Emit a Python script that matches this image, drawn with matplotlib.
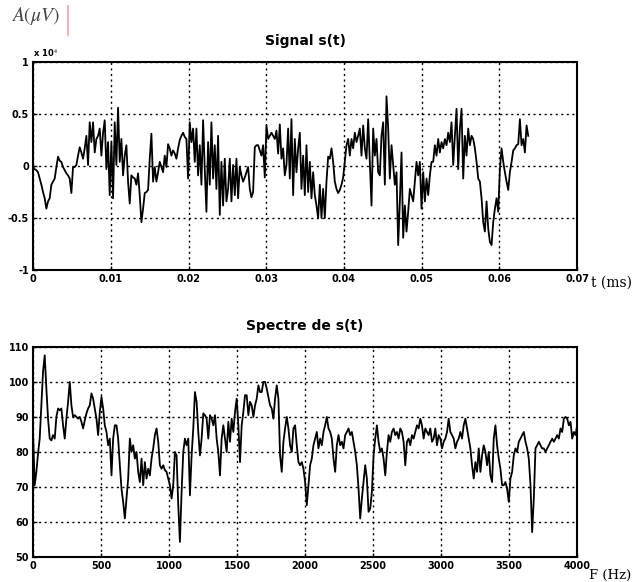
import numpy as np
import matplotlib
matplotlib.use("Agg")
import matplotlib.pyplot as plt
from matplotlib.lines import Line2D

# signal s(t), in units of 1e4 uV, uniformly sampled up to t_fin
signal = [
    -0.01, -0.03, -0.04, -0.06, -0.12, -0.18, -0.25, -0.31, -0.41, -0.34,
    -0.31, -0.18, -0.15, -0.12, -0.01, 0.09, 0.05, 0.04, -0.01, -0.04,
    -0.07, -0.09, -0.12, -0.26, -0.01, -0.01, 0.01, 0.10, 0.18, 0.13,
    0.07, 0.17, 0.29, 0.01, 0.42, 0.23, 0.42, 0.13, 0.26, 0.29,
    0.36, 0.10, 0.32, 0.44, -0.03, 0.23, -0.28, 0.23, -0.31, 0.42,
    0.01, 0.56, 0.04, 0.26, -0.09, 0.10, 0.20, -0.15, -0.36, -0.09,
    -0.11, -0.12, -0.18, -0.07, -0.28, -0.54, -0.41, -0.26, -0.25, -0.23,
    0.07, 0.31, -0.15, -0.01, -0.15, -0.06, 0.04, -0.01, -0.06, 0.10,
    -0.01, 0.21, 0.17, 0.10, 0.15, 0.12, 0.07, 0.17, 0.25, 0.29,
    0.32, 0.28, 0.26, -0.12, 0.42, 0.23, 0.36, 0.04, 0.36, -0.09,
    0.20, -0.18, 0.44, -0.03, -0.44, 0.23, -0.18, 0.42, -0.12, 0.20,
    -0.22, 0.29, -0.47, 0.04, -0.38, 0.07, -0.34, -0.22, 0.07, -0.34,
    0.01, -0.28, 0.07, -0.31, -0.01, -0.09, -0.15, -0.11, -0.06, -0.01,
    -0.22, -0.30, -0.25, 0.18, 0.20, 0.20, 0.15, 0.10, 0.20, -0.11,
    0.39, 0.26, 0.29, 0.32, 0.29, 0.26, 0.34, 0.12, 0.40, 0.07,
    0.17, -0.09,
    0.01, 0.36, -0.12, 0.45, -0.28, 0.26, -0.06, 0.17, 0.32, -0.22,
    0.10, -0.28, 0.20, -0.25, 0.04, -0.31, -0.06, -0.28, -0.38, -0.50,
    -0.18, -0.50, -0.22, -0.50, -0.15, 0.09, 0.07, 0.17, 0.04, -0.15,
    -0.22, -0.26, -0.23, -0.18, -0.11, 0.04, 0.20, 0.26, 0.10, 0.26,
    0.17, 0.32, 0.23, 0.29, 0.36, 0.10, 0.39, 0.17, 0.07, 0.45,
    0.04, -0.38, 0.36, 0.10, 0.26, -0.06, -0.09, 0.29, 0.42, -0.18,
    0.67, 0.36, -0.12, 0.20, 0.01, -0.18, -0.06, -0.76, -0.34, 0.13,
    -0.69, -0.38, -0.63, -0.44, -0.22, -0.28, -0.34, -0.15, 0.04, -0.09,
    0.04, -0.41, -0.06, -0.34, -0.12, -0.28, -0.09, 0.04, 0.04, 0.20,
    0.10, 0.26, 0.13, 0.23, 0.17, 0.26, 0.20, 0.32, 0.23, 0.42,
    0.01, 0.29, 0.55, -0.03, 0.36, 0.55, -0.12, 0.29, 0.10, 0.36,
    0.20, 0.29, 0.26, 0.17, 0.04, -0.12, -0.15, -0.31, -0.54, -0.63,
    -0.34, -0.60, -0.73, -0.76, -0.54, -0.41, -0.31, -0.44, -0.03, 0.17,
    0.04, -0.06, -0.15, -0.23, -0.06, 0.04, 0.15, 0.17, 0.20, 0.21,
    0.45, 0.20, 0.26, 0.13, 0.39, 0.29,
]
t_fin = 0.0637

# spectre de s(t) in dB, bins from 0 to 4000 Hz
spectre = [
    85.7, 70.5, 74.3, 79.5, 83.8, 93.3, 102.9, 107.6, 98.1, 89.5,
    83.8, 83.3, 84.8, 83.8, 90.0, 92.4, 91.9, 92.4, 87.6, 83.8,
    89.5, 94.3, 100.0, 93.3, 90.0, 90.5, 90.0, 89.5, 90.0, 88.6,
    86.7, 89.0, 91.0, 92.4, 93.3, 96.7, 95.2, 92.4, 89.5, 84.8,
    91.4, 95.7, 92.4, 87.6, 85.7, 81.9, 83.8, 73.3, 83.8, 87.6,
    87.6, 83.8, 76.2, 69.5, 65.7, 61.0, 66.7, 72.4, 83.8, 80.0,
    81.9, 78.1, 80.0, 74.3, 71.4, 78.1, 70.5, 77.1, 72.4, 75.2,
    73.3, 78.1, 81.0, 84.8, 86.7, 82.9, 76.2, 75.2, 76.2, 74.8,
    74.3, 72.4, 70.5, 66.7, 70.5, 80.0, 79.0, 64.8, 54.3, 68.6,
    80.0, 83.8, 81.9, 83.8, 67.6, 79.0, 86.7, 97.1, 94.3, 85.7,
    79.0, 83.8, 91.0, 90.5, 89.5, 83.8, 90.5, 89.5, 87.6, 90.5,
    83.8, 80.0, 73.3, 83.8, 87.6, 83.8, 80.0, 88.6, 82.9, 89.5,
    85.7, 91.4, 95.2, 87.6, 77.1, 87.6, 91.4, 96.2, 96.2, 90.5,
    94.3, 93.3, 90.0, 93.3, 95.2, 99.0, 97.1, 97.1, 100.0, 100.0,
    98.1, 95.7, 93.3, 92.4, 89.5, 95.2, 99.0, 95.2, 79.0, 74.3,
    82.9, 86.7, 90.0, 86.7, 81.9, 80.0, 86.7, 87.6, 81.9, 77.1,
    76.2, 77.1, 75.2, 71.4,
    64.8, 70.5, 76.2, 78.1, 81.9, 83.8, 85.7, 81.0, 83.8, 81.9,
    85.7, 87.6, 90.0, 86.7, 85.7, 83.8, 78.1, 74.3, 81.9, 84.8,
    81.9, 82.9, 81.0, 84.8, 85.7, 86.7, 84.8, 85.7, 82.9, 80.0,
    76.2, 69.5, 61.0, 66.7, 71.4, 76.2, 72.4, 62.9, 63.8, 68.6,
    79.0, 83.8, 87.6, 82.9, 80.0, 81.0, 78.1, 73.3, 80.0, 84.8,
    82.9, 85.7, 86.7, 84.8, 85.7, 83.8, 86.7, 85.7, 82.9, 76.2,
    82.9, 83.8, 81.9, 84.8, 83.8, 85.7, 87.6, 86.7, 89.5, 87.6,
    83.8, 86.7, 85.7, 84.8, 86.7, 82.9, 83.8, 86.7, 81.9, 84.8,
    83.8, 81.0, 82.9, 83.8, 85.7, 89.5, 85.7, 84.8, 83.8, 81.0,
    82.9, 83.8, 85.7, 83.8, 87.6, 89.5, 86.7, 83.8, 81.0, 76.2,
    72.4, 77.1, 74.3, 81.0, 74.3, 79.0, 81.9, 80.0, 76.2, 80.0,
    73.3, 71.4, 83.8, 87.6, 81.9, 78.1, 75.2, 70.5, 70.5, 71.4,
    69.5, 65.7, 72.4, 74.3, 79.0, 81.0, 80.0, 82.9, 83.8, 84.8,
    85.7, 82.9, 81.0, 78.1, 70.5, 57.1, 66.7, 81.0, 81.9, 82.9,
    81.9, 81.0, 81.0, 80.0, 81.0, 81.9, 82.9, 83.8, 82.9, 83.8,
    84.8, 83.8, 86.7, 85.7, 89.5, 90.0, 89.5, 87.6, 88.6, 83.8,
    85.7, 84.8, 87.6,
]
f_max = 4000

t_ticks = [0, 0.01, 0.02, 0.03, 0.04, 0.05, 0.06, 0.07]
t_labels = ["0", "0.01", "0.02", "0.03", "0.04", "0.05", "0.06", "0.07"]
a_ticks = [-1, -0.5, 0, 0.5, 1]
a_labels = ["-1", "-0.5", "0", "0.5", "1"]
f_ticks = [0, 500, 1000, 1500, 2000, 2500, 3000, 3500, 4000]
db_ticks = [50, 60, 70, 80, 90, 100, 110]

t = np.linspace(0, t_fin, len(signal))
f = np.linspace(0, f_max, len(spectre))

plt.rcParams["mathtext.fontset"] = "stix"

fig = plt.figure(figsize=(6.35, 5.82), dpi=100)
ax1 = fig.add_axes([0.052, 0.536, 0.857, 0.3575])
ax2 = fig.add_axes([0.052, 0.043, 0.857, 0.361])

def style(ax):
    ax.grid(True, color="black", linestyle=(0, (1.5, 2.5)), linewidth=1.0)
    for s in ax.spines.values():
        s.set_linewidth(1.5)
    ax.tick_params(direction="in", length=3, width=1, labelsize=7, pad=3)
    for lab in ax.get_xticklabels() + ax.get_yticklabels():
        lab.set_fontweight("bold")

ax1.plot(t, signal, color="black", linewidth=1.3)
ax1.set_xlim(0, 0.07)
ax1.set_ylim(-1, 1)
ax1.set_xticks(t_ticks)
ax1.set_xticklabels(t_labels)
ax1.set_yticks(a_ticks)
ax1.set_yticklabels(a_labels)
ax1.set_title("Signal s(t)", fontsize=10, fontweight="bold", pad=12)
style(ax1)
ax1.text(0.0, 1.015, r"x 10$^4$", transform=ax1.transAxes, fontsize=6,
         fontweight="bold", ha="left", va="bottom")
ax1.text(1.026, -0.062, "t (ms)", transform=ax1.transAxes, fontsize=10,
         family="serif", ha="left", va="center")

ax2.plot(f, spectre, color="black", linewidth=1.3)
ax2.set_xlim(0, 4000)
ax2.set_ylim(50, 110)
ax2.set_xticks(f_ticks)
ax2.set_yticks(db_ticks)
ax2.set_title("Spectre de s(t)", fontsize=10, fontweight="bold", pad=12)
style(ax2)
ax2.text(1.022, -0.086, "F (Hz)", transform=ax2.transAxes, fontsize=9.5,
         family="serif", ha="left", va="center")

fig.text(0.018, 0.972, r"$A(\mu V)$", fontsize=14, ha="left", va="center",
         color="#444444")
fig.add_artist(Line2D([0.107, 0.107], [0.94, 0.99], color="#f4a0a8",
                      linewidth=1.2))

fig.savefig("out.png", dpi=100)
